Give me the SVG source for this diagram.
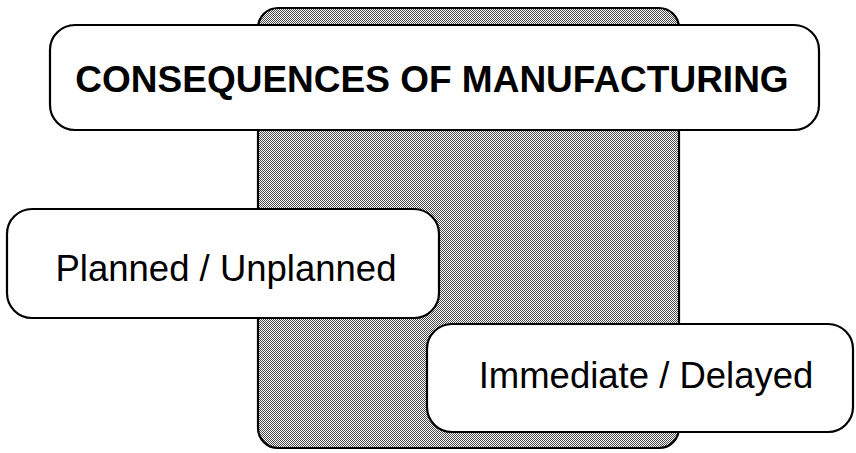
<svg xmlns="http://www.w3.org/2000/svg" width="856" height="453" viewBox="0 0 856 453">
<defs>
<pattern id="dither" width="2" height="2" patternUnits="userSpaceOnUse">
<rect width="2" height="2" fill="#ffffff"/>
<rect x="0" y="0" width="1" height="1" fill="#4a4a4a"/>
<rect x="1" y="1" width="1" height="1" fill="#4a4a4a"/>
</pattern>
<style>
.box{fill:#ffffff;stroke:#000;stroke-width:2.2}
.lbl{font-family:"Liberation Sans",Arial,Helvetica,sans-serif;fill:#000;text-anchor:middle}
.title{font-weight:bold;font-size:37px}
.sub{font-size:36.5px}
</style>
</defs>
<rect width="856" height="453" fill="#fff"/>
<g id="backdrop">
<rect x="258" y="8" width="421" height="440" rx="20" ry="20" fill="url(#dither)" stroke="#000" stroke-width="2.2"/>
</g>
<g id="connectors"></g>
<g id="title">
<rect class="box" x="50" y="25" width="769" height="105" rx="25" ry="25"/>
<text class="lbl title" x="432" y="92">CONSEQUENCES OF MANUFACTURING</text>
</g>
<g id="planned">
<rect class="box" x="7" y="209" width="432" height="109" rx="25" ry="25"/>
<text class="lbl sub" x="226" y="281">Planned / Unplanned</text>
</g>
<g id="immediate">
<rect class="box" x="427" y="324" width="426" height="108" rx="25" ry="25"/>
<text class="lbl sub" x="646" y="388">Immediate / Delayed</text>
</g>
</svg>
